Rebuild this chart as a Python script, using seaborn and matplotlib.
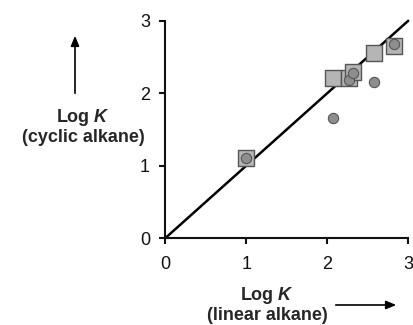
import matplotlib
matplotlib.use("Agg")
import matplotlib.pyplot as plt
import seaborn as sns
import pandas as pd

# Data
sq_x = [1.00, 2.07, 2.27, 2.32, 2.58, 2.83]
sq_y = [1.11, 2.21, 2.21, 2.29, 2.55, 2.65]
ci_x = [1.00, 2.07, 2.27, 2.32, 2.58, 2.83]
ci_y = [1.11, 1.66, 2.18, 2.28, 2.16, 2.68]
line_x = [0, 3]
line_y = [0, 3]
ticks = [0, 1, 2, 3]

sns.set_style("ticks")
plt.rcParams['font.family'] = ['Liberation Sans', 'DejaVu Sans']
plt.rcParams['mathtext.fontset'] = 'custom'
plt.rcParams['mathtext.it'] = 'Liberation Sans:italic:bold'
plt.rcParams['mathtext.rm'] = 'Liberation Sans:bold'

fig = plt.figure(figsize=(4.14, 3.25), dpi=100)
ax = fig.add_axes([0.399, 0.267, 0.587, 0.669])

sns.lineplot(x=line_x, y=line_y, ax=ax, color='black', linewidth=1.8,
             zorder=1, clip_on=False)
sns.scatterplot(x=sq_x, y=sq_y, ax=ax, marker='s', s=120, color='#b5b5b5',
                edgecolor='#555555', linewidth=1.0, zorder=3, clip_on=False)
sns.scatterplot(x=ci_x, y=ci_y, ax=ax, marker='o', s=55, color='#8e8e8e',
                edgecolor='#555555', linewidth=0.8, zorder=4, clip_on=False)

ax.set_xlim(0, 3)
ax.set_ylim(0, 3)
ax.set_xticks(ticks)
ax.set_yticks(ticks)
ax.set_xticklabels([str(t) for t in ticks])
ax.set_yticklabels([str(t) for t in ticks])
for s in ['top', 'right']:
    ax.spines[s].set_visible(False)
for s in ['left', 'bottom']:
    ax.spines[s].set_linewidth(1.5)
    ax.spines[s].set_color('#111111')
ax.tick_params(axis='both', length=4, width=1.5, color='#111111',
               labelsize=13, colors='#111111')
ax.tick_params(axis='x', pad=9)
ax.tick_params(axis='y', pad=7)
ax.set_xlabel('')
ax.set_ylabel('')

W, H = 414, 325
def fx(px):
    return px / W
def fy(py):
    return 1 - py / H

# Left label
fig.text(fx(83), fy(117), r'Log $K$', ha='center', va='center',
         fontsize=13, fontweight='bold')
fig.text(fx(83), fy(137), '(cyclic alkane)', ha='center', va='center',
         fontsize=13, fontweight='bold')
fig.add_artist(matplotlib.patches.FancyArrowPatch(
    (fx(75), fy(96)), (fx(75), fy(33)), transform=fig.transFigure,
    arrowstyle='-|>,head_length=6,head_width=2.5', color='black', lw=1.2,
    mutation_scale=1))

# Bottom label
fig.text(fx(267), fy(296), r'Log $K$', ha='center', va='center',
         fontsize=13, fontweight='bold')
fig.text(fx(267), fy(316), '(linear alkane)', ha='center', va='center',
         fontsize=13, fontweight='bold')
fig.add_artist(matplotlib.patches.FancyArrowPatch(
    (fx(333), fy(305)), (fx(399), fy(305)), transform=fig.transFigure,
    arrowstyle='-|>,head_length=6,head_width=2.5', color='black', lw=1.2,
    mutation_scale=1))

fig.savefig('out.png', dpi=100)
